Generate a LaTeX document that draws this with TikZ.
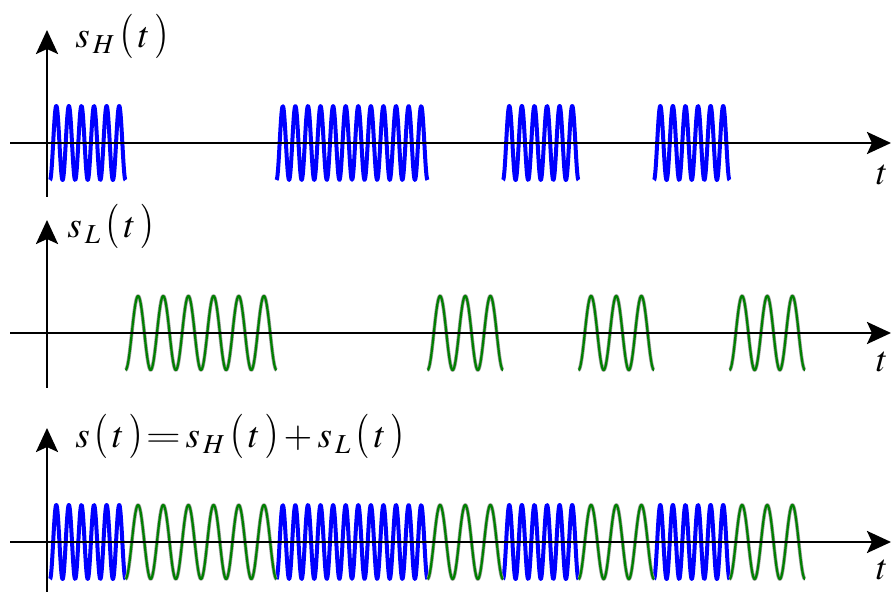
\documentclass[tikz,border=0pt]{standalone}
\usepackage{amsmath}
\usepackage{mathptmx}
\usetikzlibrary{arrows.meta}
\newcommand{\ofT}{\,\scalebox{1}[1.2]{$($}\,t\,\scalebox{1}[1.2]{$)$}}
\newcommand{\boldeq}{\,\scalebox{1.3}[1]{\bfseries =}\,}

\begin{document}
\begin{tikzpicture}[x=0.5pt,y=-0.5pt,
  axis/.style={line width=1.4pt,-{Stealth[length=12pt,width=11pt,inset=2.5pt]}},
  hi/.style={blue,line width=2pt,line join=round},
  lo/.style={green!50!black,line width=1.1pt,line join=round},
  halo/.style={gray!75,line width=1.8pt,line join=round},
  lbl/.style={inner sep=0pt,anchor=base west,font=\fontsize{18.5}{21}\selectfont},
  tlbl/.style={inner sep=0pt,font=\fontsize{18}{20}\selectfont}]
\useasboundingbox (0,0) rectangle (893,592);
% high tone bursts (panels 1 and 3)
\foreach \y in {143,542}
  \foreach \a/\b in {50/125.5,276.5/427.5,503/578.5,654/729.5}
    \draw[hi] plot[domain=\a:\b,samples=300] (\x,{\y+37*cos((\x-\a)/12.583*360)});
% low tone bursts (panels 2 and 3)
\foreach \y in {333,542}
  \foreach \a/\b in {125.5/276.5,427.5/503,578.5/654,729.5/805}
    \foreach \s in {halo,lo}
      \draw[\s] plot[domain=\a:\b,samples=300] (\x,{\y+37*cos((\x-\a)/25.167*360)});
% axes
\draw[axis] (10,143) -- (891,143);
\draw[axis] (47,197) -- (47,30);
\draw[axis] (10,333) -- (891,333);
\draw[axis] (47,388) -- (47,220);
\draw[axis] (10,542) -- (891,542);
\draw[axis] (47,592) -- (47,428);
% labels
\node[lbl] (sh) at (75,48) {$s_{\,H}\ofT$};
\node[lbl] (sl) at (67,238) {$s_{\,L}\ofT$};
\node[lbl] (ss) at (75,448) {$s\ofT\boldeq s_{\,H}\ofT+s_{\,L}\ofT$};
\node[tlbl] (t1) at (882,175) {$t$};
\node[tlbl] (t2) at (882,362) {$t$};
\node[tlbl] (t3) at (882,570) {$t$};
\end{tikzpicture}
\end{document}
